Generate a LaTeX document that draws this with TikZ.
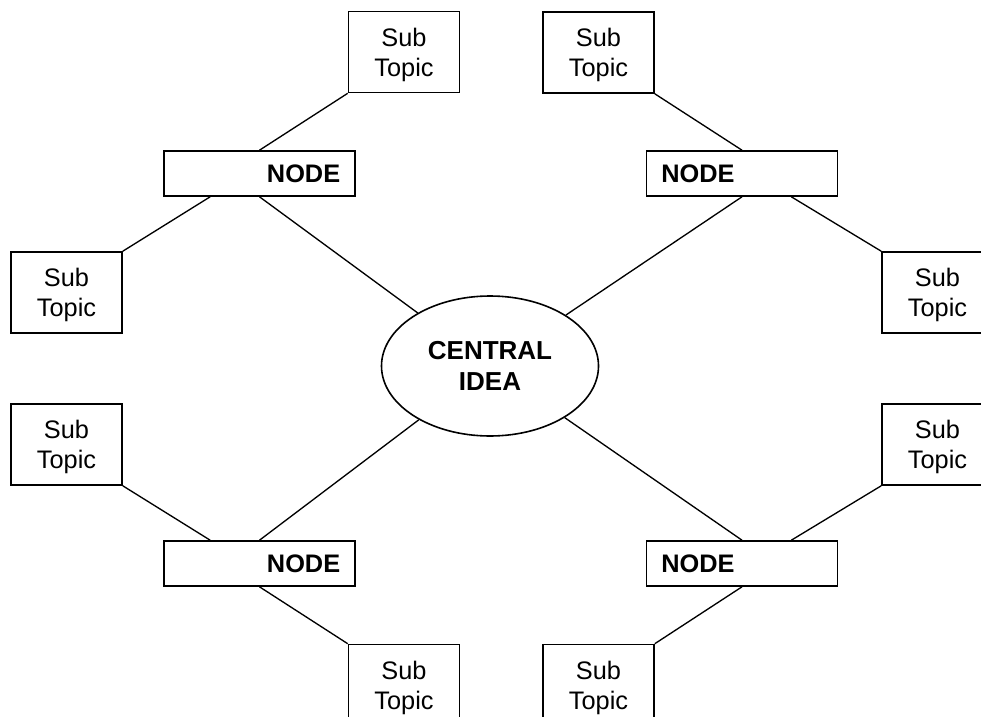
\documentclass[tikz,border=0pt]{standalone}
\usepackage{fontspec}
\setmainfont{Liberation Sans}
\usetikzlibrary{shapes.geometric}

\begin{document}
\begin{tikzpicture}[
			x=0.75pt, y=-0.75pt,
			line width=1pt,
			subtopic/.style={draw, line width=1.2pt, inner sep=0pt, minimum width=83.25pt, minimum height=60.75pt,
				align=center, text depth=0pt, font=\fontsize{19}{22.5}\selectfont},
			branch/.style={draw, line width=1.2pt, inner xsep=11pt, inner ysep=0pt, minimum height=33.75pt,
				text width=121pt, font=\bfseries\fontsize{19}{22.5}\selectfont},
			idea/.style={draw, ellipse, line width=1.2pt, inner sep=0pt, minimum width=162.75pt, minimum height=105pt,
				align=center, text depth=0pt, font=\bfseries\fontsize{19.5}{23}\selectfont}
		]
		\useasboundingbox (0,0) rectangle (981,717);
		\clip (0,0) rectangle (981,717);

		\node[idea] (idea) at (490,366) {CENTRAL\\IDEA};

		\node[branch, align=right] (nodeTL) at (259.5,173.5) {NODE};
		\node[branch, align=left] (nodeTR) at (742,173.5) {NODE};
		\node[branch, align=right] (nodeBL) at (259.5,563.5) {NODE};
		\node[branch, align=left] (nodeBR) at (742,563.5) {NODE};

		\node[subtopic] (subT1) at (404,52) {Sub\\Topic};
		\node[subtopic] (subT2) at (598.5,52.5) {Sub\\Topic};
		\node[subtopic] (subL1) at (66.5,292.5) {Sub\\Topic};
		\node[subtopic] (subR1) at (937.5,292.5) {Sub\\Topic};
		\node[subtopic] (subL2) at (66.5,444.5) {Sub\\Topic};
		\node[subtopic] (subR2) at (937.5,444.5) {Sub\\Topic};
		\node[subtopic] (subB1) at (404,685) {Sub\\Topic};
		\node[subtopic] (subB2) at (598.5,685) {Sub\\Topic};

		% branches out of the centre
		\draw (idea) -- (nodeTL.south);
		\draw (idea) -- (nodeTR.south);
		\draw (idea) -- (nodeBL.north);
		\draw (idea) -- (nodeBR.north);

		% sub topics on each branch
		\draw (nodeTL.north) -- (subT1.south west);
		\draw ([xshift=-37pt]nodeTL.south) -- (subL1.north east);
		\draw (nodeTR.north) -- (subT2.south east);
		\draw ([xshift=37pt]nodeTR.south) -- (subR1.north west);
		\draw ([xshift=-37pt]nodeBL.north) -- (subL2.south east);
		\draw (nodeBL.south) -- (subB1.north west);
		\draw ([xshift=37pt]nodeBR.north) -- (subR2.south west);
		\draw (nodeBR.south) -- (subB2.north east);
	\end{tikzpicture}
\end{document}
